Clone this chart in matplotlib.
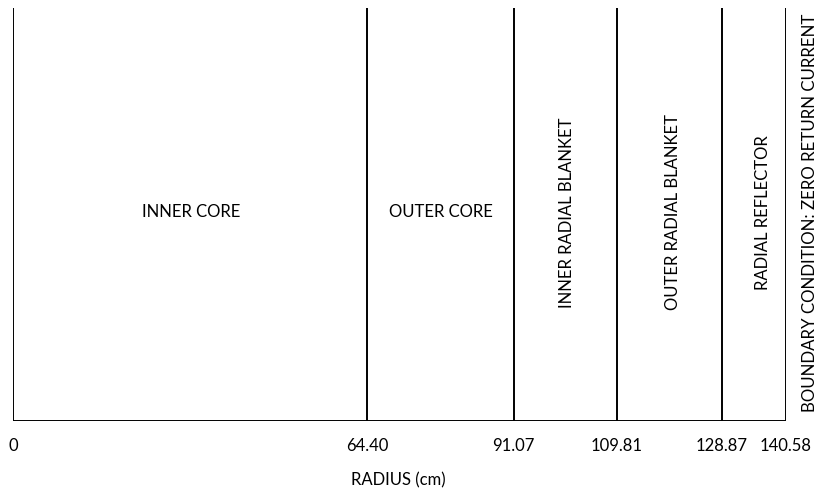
import matplotlib
matplotlib.use("Agg")
import matplotlib.pyplot as plt

plt.rcParams['font.family'] = ['Lato', 'DejaVu Sans']

boundaries = [0, 64.40, 91.07, 109.81, 128.87, 140.58]
tick_labels = ["0", "64.40", "91.07", "109.81", "128.87", "140.58"]
regions = ["INNER CORE", "OUTER CORE", "INNER RADIAL BLANKET",
           "OUTER RADIAL BLANKET", "RADIAL REFLECTOR"]
region_rotation = [0, 0, 90, 90, 90]
boundary_condition = "BOUNDARY CONDITION: ZERO RETURN CURRENT"
xlabel = "RADIUS (cm)"

# label x shifts (data units) relative to region midpoints
label_shift = [0.2, 0.1, 0.4, 0.6, 1.7]

fig = plt.figure(figsize=(8.2, 4.93), dpi=100)
ax = fig.add_axes([13/820, (493-421)/493, (786-13)/820, (421-8)/493])
ax.set_xlim(boundaries[0], boundaries[-1])
ax.set_ylim(0, 1)

ax.vlines(boundaries, 0, 1, colors="black", lw=1.4)
ax.hlines(0, boundaries[0], boundaries[-1], colors="black", lw=1.4)

for i, (name, rot) in enumerate(zip(regions, region_rotation)):
    xm = (boundaries[i] + boundaries[i+1]) / 2 + label_shift[i]
    ax.text(xm, 0.505, name, rotation=rot, ha="center", va="center",
            fontsize=12, color="black")

ax.text(boundaries[-1] + 4.3, 0.505, boundary_condition, rotation=90,
        ha="center", va="center", fontsize=12.2, color="black")

for s in ax.spines.values():
    s.set_visible(False)
ax.set_yticks([])
ax.set_xticks(boundaries)
ax.set_xticklabels(tick_labels, fontsize=12)
ax.tick_params(axis="x", length=0, pad=12)
ax.set_xlabel(xlabel, fontsize=12)
ax.xaxis.set_label_coords((398-13)/(786-13), -(472-421)/413)
ax.xaxis.label.set_va("top")

fig.savefig("out.png", dpi=100)
